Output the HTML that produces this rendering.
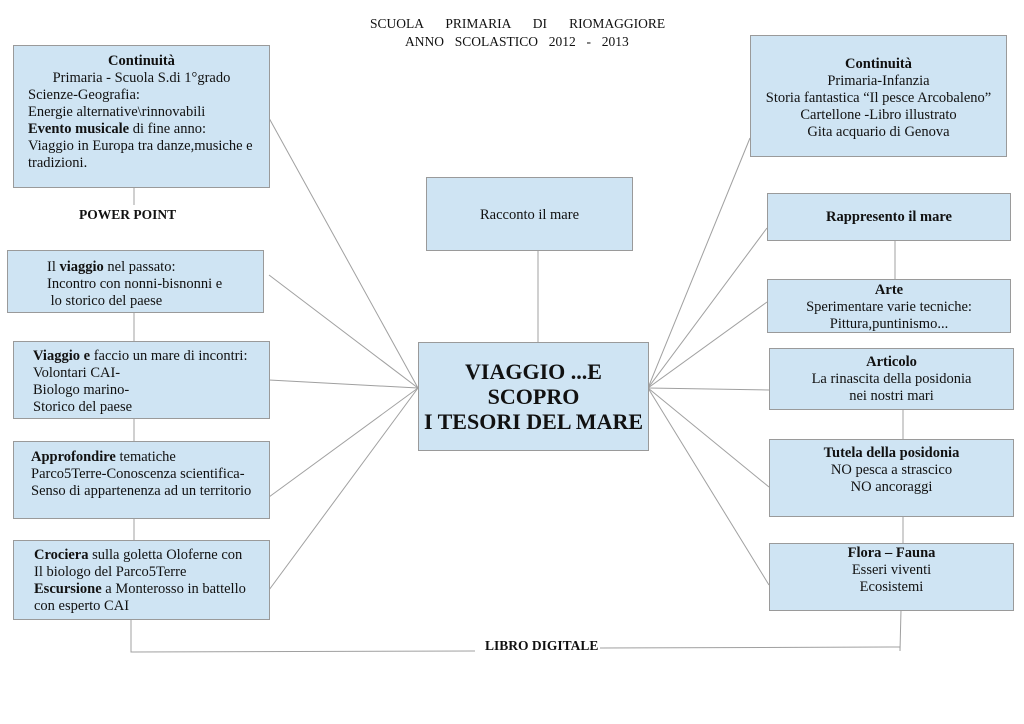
<!DOCTYPE html>
<html><head><meta charset="utf-8"><style>
body{margin:0;width:1024px;height:724px;background:#fff;position:relative;font-family:"Liberation Serif",serif;color:#111;overflow:hidden}
.b{position:absolute;background:#cfe4f3;border:1px solid #9a9a9a;box-sizing:border-box;font-size:14.5px;line-height:17px;white-space:nowrap}
.c{text-align:center}
.t{position:absolute;font-size:13.5px;font-weight:bold;white-space:nowrap}
svg{position:absolute;left:0;top:0}
</style></head><body>
<svg width="1024" height="724"><g stroke="#a0a0a0" stroke-width="1" fill="none">
<line x1="269" y1="118" x2="418" y2="388"/><line x1="269" y1="275" x2="418" y2="388"/>
<line x1="269" y1="380" x2="418" y2="388"/><line x1="269" y1="497" x2="418" y2="388"/>
<line x1="269" y1="590" x2="418" y2="388"/>
<line x1="648" y1="388" x2="750" y2="138"/><line x1="648" y1="388" x2="767" y2="228"/>
<line x1="648" y1="388" x2="767" y2="302"/><line x1="648" y1="388" x2="769" y2="390"/>
<line x1="648" y1="388" x2="769" y2="487"/><line x1="648" y1="388" x2="769" y2="585"/>
<line x1="538" y1="250" x2="538" y2="342"/>
<line x1="134" y1="187" x2="134" y2="205"/><line x1="134" y1="312" x2="134" y2="341"/>
<line x1="134" y1="418" x2="134" y2="441"/><line x1="134" y1="518" x2="134" y2="540"/>
<line x1="895" y1="240" x2="895" y2="279"/><line x1="903" y1="409" x2="903" y2="439"/>
<line x1="903" y1="516" x2="903" y2="543"/>
<polyline points="131,619 131,652 475,651"/><polyline points="600,648 900,647 900,651 901,610"/>
</g></svg>
<div class="t" style="left:370px;top:16px;font-weight:normal;font-size:13.5px;word-spacing:4px">SCUOLA &nbsp;&nbsp;PRIMARIA &nbsp;&nbsp;DI &nbsp; RIOMAGGIORE</div>
<div class="t" style="left:405px;top:34px;font-weight:normal;font-size:13.5px;word-spacing:2px">ANNO &nbsp;SCOLASTICO &nbsp;2012 &nbsp;- &nbsp;2013</div>
<div class="b" style="left:13px;top:45px;width:257px;height:143px;padding:7px 0 0 14px"><div class="c" style="margin-left:-14px"><b>Continuità</b><br>Primaria - Scuola S.di 1°grado</div>Scienze-Geografia:<br>Energie alternative\rinnovabili<br><b>Evento musicale</b> di fine anno:<br>Viaggio in Europa tra danze,musiche e<br>tradizioni.</div>
<div class="t" style="left:79px;top:207px">POWER POINT</div>
<div class="b" style="left:7px;top:250px;width:257px;height:63px;padding:8px 0 0 39px">Il <b>viaggio</b> nel passato:<br>Incontro con nonni-bisnonni e<br>&nbsp;lo storico del paese</div>
<div class="b" style="left:13px;top:341px;width:257px;height:78px;padding:6px 0 0 19px"><b>Viaggio e</b> faccio un mare di incontri:<br>Volontari CAI-<br>Biologo marino-<br>Storico del paese</div>
<div class="b" style="left:13px;top:441px;width:257px;height:78px;padding:7px 0 0 17px"><b>Approfondire</b> tematiche<br>Parco5Terre-Conoscenza scientifica-<br>Senso di appartenenza ad un territorio</div>
<div class="b" style="left:13px;top:540px;width:257px;height:80px;padding:6px 0 0 20px"><b>Crociera</b> sulla goletta Oloferne con<br>Il biologo del Parco5Terre<br><b>Escursione</b> a Monterosso in battello<br>con esperto CAI</div>
<div class="b c" style="left:426px;top:177px;width:207px;height:74px;padding-top:29px">Racconto il mare</div>
<div class="b c" style="left:418px;top:342px;width:231px;height:109px;padding-top:16px;font-size:22px;line-height:25px;font-weight:bold">VIAGGIO ...E<br>SCOPRO<br>I TESORI DEL MARE</div>
<div class="t" style="left:485px;top:638px">LIBRO DIGITALE</div>
<div class="b c" style="left:750px;top:35px;width:257px;height:122px;padding-top:20px"><b>Continuità</b><br>Primaria-Infanzia<br>Storia fantastica “Il pesce Arcobaleno”<br>Cartellone -Libro illustrato<br>Gita acquario di Genova</div>
<div class="b c" style="left:767px;top:193px;width:244px;height:48px;padding-top:15px"><b>Rappresento il mare</b></div>
<div class="b c" style="left:767px;top:279px;width:244px;height:54px;padding-top:2px"><b>Arte</b><br>Sperimentare varie tecniche:<br>Pittura,puntinismo...</div>
<div class="b c" style="left:769px;top:348px;width:245px;height:62px;padding-top:5px"><b>Articolo</b><br>La rinascita della posidonia<br>nei nostri mari</div>
<div class="b c" style="left:769px;top:439px;width:245px;height:78px;padding-top:5px"><b>Tutela della posidonia</b><br>NO pesca a strascico<br>NO ancoraggi</div>
<div class="b c" style="left:769px;top:543px;width:245px;height:68px;padding-top:1px"><b>Flora – Fauna</b><br>Esseri viventi<br>Ecosistemi</div>
</body></html>
